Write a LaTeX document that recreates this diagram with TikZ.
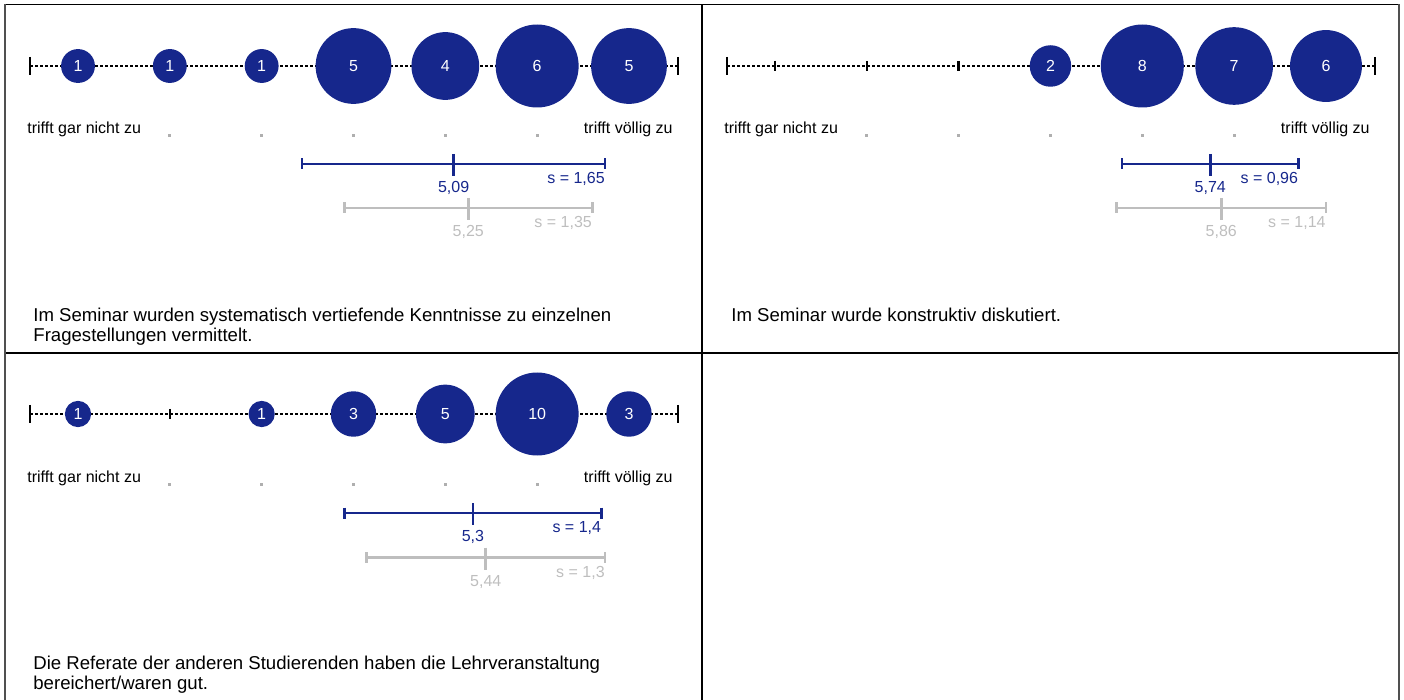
\documentclass[tikz,border=0pt]{standalone}
\usepackage{fontspec}
\setmainfont{Liberation Sans}
\definecolor{uniblue}{RGB}{22,39,140}
\definecolor{refgray}{RGB}{190,190,190}
\definecolor{dotgray}{RGB}{175,175,175}
\definecolor{framegray}{RGB}{80,80,80}

\begin{document}
\begin{tikzpicture}[x=0.5pt, y=-0.5pt,
    declare function={cat(\v)=78+(\v-1)*91.83;}]
  \tikzset{
    txt/.style={inner sep=0pt, font=\fontsize{8}{9.6}\selectfont},
    qtxt/.style={inner sep=0pt, anchor=base west, font=\fontsize{9.3}{11}\selectfont},
    bubble/.style={circle, fill=uniblue, text=white, inner sep=0pt,
      font=\fontsize{8}{9.6}\selectfont},
    axisline/.style={dash pattern=on 1.6pt off 0.9pt, line width=1.4pt},
    endcap/.style={line width=1.2pt},
    bar/.style={line width=1.3pt},
  }
  \useasboundingbox (0,0) rectangle (1404,700);

  % frame
  \draw[line width=0.9pt] (5,4.5) -- (1399,4.5);
  \draw[line width=0.9pt] (5,353) -- (1399,353);
  \draw[line width=0.9pt] (702,4.5) -- (702,700);
  \draw[line width=1.1pt, framegray] (5,4.5) -- (5,700);
  \draw[line width=1.1pt, framegray] (1399,4.5) -- (1399,700);

  % panel 1
  \coordinate (a1l) at (30,66);
  \coordinate (a1r) at (678,66);
  \draw[axisline] (a1l) -- (a1r);
  \draw[endcap] (a1l) ++(0,-9) -- ++(0,18);
  \draw[endcap] (a1r) ++(0,-9) -- ++(0,18);
  \foreach \k in {1,...,7} {
      \draw[endcap] ({cat(\k)},61) -- ({cat(\k)},71);
      }
  \foreach \k/\n in {1/1,2/1,3/1,4/5,5/4,6/6,7/5} {
      \pgfmathsetmacro\r{41.5*sqrt(\n/6)}
      \node[bubble, minimum size=\r pt] (p1c\k) at ({cat(\k)},66) {\n};
      }
  \foreach \k in {2,...,6} {
      \fill[dotgray] ({cat(\k)-1.5},134.5) rectangle ++(3,3);
      }
  \node[txt, anchor=base west] (p1lo) at (27,134) {trifft gar nicht zu};
  \node[txt, anchor=base east] (p1hi) at (673,134) {trifft völlig zu};

  \coordinate (b1l) at ({cat(5.09-1.65)},164);
  \coordinate (b1m) at ({cat(5.09)},164);
  \coordinate (b1r) at ({cat(5.09+1.65)},164);
  \draw[bar, uniblue] (b1l) -- (b1r);
  \draw[bar, uniblue] (b1l) ++(0,-5.5) -- ++(0,11);
  \draw[bar, uniblue] (b1r) ++(0,-5.5) -- ++(0,11);
  \draw[bar, uniblue] (b1m) ++(0,-10) -- ++(0,22);
  \node[txt, uniblue, anchor=base] (m1) at ([yshift=-29*0.5pt]b1m) {5,09};
  \node[txt, uniblue, anchor=base east] (s1) at ([yshift=-19.5*0.5pt]b1r) {s = 1,65};

  \coordinate (g1l) at ({cat(5.25-1.35)},208);
  \coordinate (g1m) at ({cat(5.25)},208);
  \coordinate (g1r) at ({cat(5.25+1.35)},208);
  \draw[bar, refgray] (g1l) -- (g1r);
  \draw[bar, refgray] (g1l) ++(0,-5.5) -- ++(0,11);
  \draw[bar, refgray] (g1r) ++(0,-5.5) -- ++(0,11);
  \draw[bar, refgray] (g1m) ++(0,-10) -- ++(0,22);
  \node[txt, refgray, anchor=base] (gm1) at ([yshift=-29*0.5pt]g1m) {5,25};
  \node[txt, refgray, anchor=base east] (gs1) at ([yshift=-19.5*0.5pt]g1r) {s = 1,35};

  \node[qtxt] (q1a) at (33,321.7) {Im Seminar wurden systematisch vertiefende Kenntnisse zu einzelnen};
  \node[qtxt] (q1b) at (33,341.2) {Fragestellungen vermittelt.};

  % panel 2
  \begin{scope}[shift={(697,0)}]
  \coordinate (a2l) at (30,66);
  \coordinate (a2r) at (678,66);
  \draw[axisline] (a2l) -- (a2r);
  \draw[endcap] (a2l) ++(0,-9) -- ++(0,18);
  \draw[endcap] (a2r) ++(0,-9) -- ++(0,18);
  \foreach \k in {1,...,7} {
      \draw[endcap] ({cat(\k)},61) -- ({cat(\k)},71);
      }
  \foreach \k/\n in {4/2,5/8,6/7,7/6} {
      \pgfmathsetmacro\r{41.5*sqrt(\n/8)}
      \node[bubble, minimum size=\r pt] (p2c\k) at ({cat(\k)},66) {\n};
      }
  \foreach \k in {2,...,6} {
      \fill[dotgray] ({cat(\k)-1.5},134.5) rectangle ++(3,3);
      }
  \node[txt, anchor=base west] (p2lo) at (27,134) {trifft gar nicht zu};
  \node[txt, anchor=base east] (p2hi) at (673,134) {trifft völlig zu};

  \coordinate (b2l) at ({cat(5.74-0.96)},164);
  \coordinate (b2m) at ({cat(5.74)},164);
  \coordinate (b2r) at ({cat(5.74+0.96)},164);
  \draw[bar, uniblue] (b2l) -- (b2r);
  \draw[bar, uniblue] (b2l) ++(0,-5.5) -- ++(0,11);
  \draw[bar, uniblue] (b2r) ++(0,-5.5) -- ++(0,11);
  \draw[bar, uniblue] (b2m) ++(0,-10) -- ++(0,22);
  \node[txt, uniblue, anchor=base] (m2) at ([yshift=-29*0.5pt]b2m) {5,74};
  \node[txt, uniblue, anchor=base east] (s2) at ([yshift=-19.5*0.5pt]b2r) {s = 0,96};

  \coordinate (g2l) at ({cat(5.86-1.14)},208);
  \coordinate (g2m) at ({cat(5.86)},208);
  \coordinate (g2r) at ({cat(5.86+1.14)},208);
  \draw[bar, refgray] (g2l) -- (g2r);
  \draw[bar, refgray] (g2l) ++(0,-5.5) -- ++(0,11);
  \draw[bar, refgray] (g2r) ++(0,-5.5) -- ++(0,11);
  \draw[bar, refgray] (g2m) ++(0,-10) -- ++(0,22);
  \node[txt, refgray, anchor=base] (gm2) at ([yshift=-29*0.5pt]g2m) {5,86};
  \node[txt, refgray, anchor=base east] (gs2) at ([yshift=-19.5*0.5pt]g2r) {s = 1,14};

  \node[qtxt] (q2a) at (34,321.7) {Im Seminar wurde konstruktiv diskutiert.};
  \end{scope}

  % panel 3
  \begin{scope}[shift={(0,348)}]
  \coordinate (a3l) at (30,66);
  \coordinate (a3r) at (678,66);
  \draw[axisline] (a3l) -- (a3r);
  \draw[endcap] (a3l) ++(0,-9) -- ++(0,18);
  \draw[endcap] (a3r) ++(0,-9) -- ++(0,18);
  \foreach \k in {1,...,7} {
      \draw[endcap] ({cat(\k)},61) -- ({cat(\k)},71);
      }
  \foreach \k/\n in {1/1,3/1,4/3,5/5,6/10,7/3} {
      \pgfmathsetmacro\r{41.5*sqrt(\n/10)}
      \node[bubble, minimum size=\r pt] (p3c\k) at ({cat(\k)},66) {\n};
      }
  \foreach \k in {2,...,6} {
      \fill[dotgray] ({cat(\k)-1.5},134.5) rectangle ++(3,3);
      }
  \node[txt, anchor=base west] (p3lo) at (27,134) {trifft gar nicht zu};
  \node[txt, anchor=base east] (p3hi) at (673,134) {trifft völlig zu};

  \coordinate (b3l) at ({cat(5.3-1.4)},165);
  \coordinate (b3m) at ({cat(5.3)},165);
  \coordinate (b3r) at ({cat(5.3+1.4)},165);
  \draw[bar, uniblue] (b3l) -- (b3r);
  \draw[bar, uniblue] (b3l) ++(0,-5.5) -- ++(0,11);
  \draw[bar, uniblue] (b3r) ++(0,-5.5) -- ++(0,11);
  \draw[bar, uniblue] (b3m) ++(0,-10) -- ++(0,22);
  \node[txt, uniblue, anchor=base] (m3) at ([yshift=-28.5*0.5pt]b3m) {5,3};
  \node[txt, uniblue, anchor=base east] (s3) at ([yshift=-19.5*0.5pt]b3r) {s = 1,4};

  \coordinate (g3l) at ({cat(5.44-1.3)},209.5);
  \coordinate (g3m) at ({cat(5.44)},209.5);
  \coordinate (g3r) at ({cat(5.44+1.3)},209.5);
  \draw[bar, refgray] (g3l) -- (g3r);
  \draw[bar, refgray] (g3l) ++(0,-5.5) -- ++(0,11);
  \draw[bar, refgray] (g3r) ++(0,-5.5) -- ++(0,11);
  \draw[bar, refgray] (g3m) ++(0,-10) -- ++(0,22);
  \node[txt, refgray, anchor=base] (gm3) at ([yshift=-28.5*0.5pt]g3m) {5,44};
  \node[txt, refgray, anchor=base east] (gs3) at ([yshift=-19.5*0.5pt]g3r) {s = 1,3};

  \node[qtxt] (q3a) at (33,321.7) {Die Referate der anderen Studierenden haben die Lehrveranstaltung};
  \node[qtxt] (q3b) at (33,341.2) {bereichert/waren gut.};
  \end{scope}
\end{tikzpicture}
\end{document}
